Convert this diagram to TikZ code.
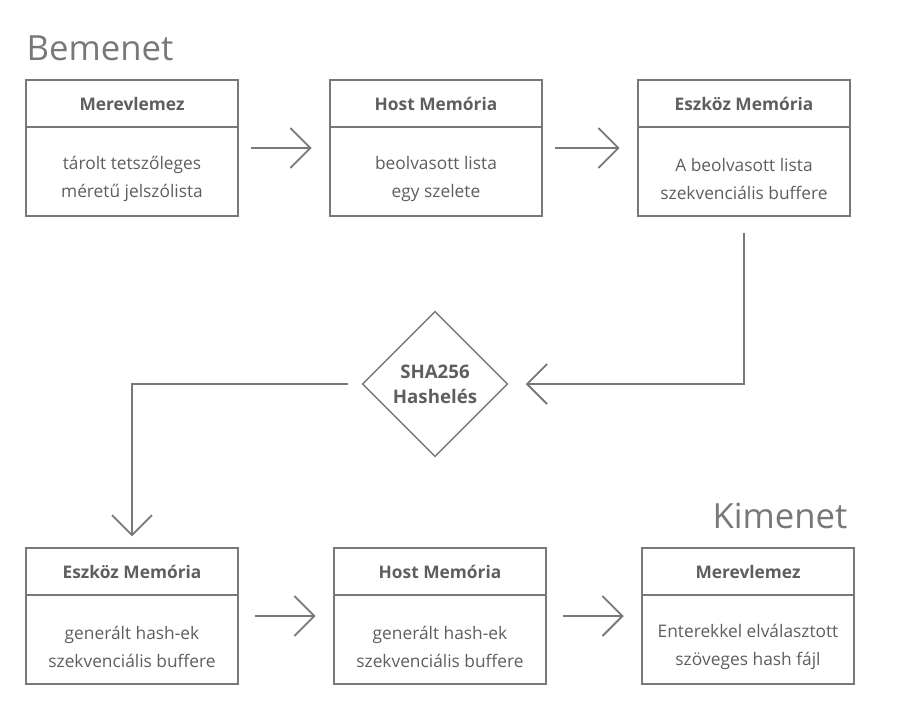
\documentclass[tikz,border=0pt]{standalone}
\usepackage{fontspec}
\setmainfont{Open Sans}
\usetikzlibrary{arrows.meta,shapes.geometric,positioning}

\definecolor{linegray}{HTML}{787878}
\definecolor{textgray}{HTML}{5E5E5E}

\tikzset{
  box/.style={draw=linegray, line width=1.4pt, minimum width=159pt, minimum height=102pt},
  rule/.style={draw=linegray, line width=1.1pt},
  head/.style={text=textgray, font=\bfseries\fontsize{13}{16}\selectfont},
  body/.style={text=textgray, align=center, font=\fontsize{13}{21}\selectfont},
  hashbox/.style={draw=linegray, line width=1.1pt, diamond, aspect=1, inner sep=0pt,
    minimum width=109pt, minimum height=109pt, align=center, text=textgray,
    font=\bfseries\fontsize{14}{19}\selectfont},
  flow/.style={draw=linegray, line width=1.4pt,
    -{Straight Barb[length=15pt, width=30pt, line width=1.4pt]}},
  caption/.style={text=linegray, font=\fontsize{26}{30}\selectfont}
}

\begin{document}
\begin{tikzpicture}[x=0.75pt, y=-0.75pt]
  \useasboundingbox (0,0) rectangle (899,721);

  \node[caption, anchor=base west] (inTitle) at (22,60) {Bemenet};
  \node[caption, anchor=base east] (outTitle) at (852,528) {Kimenet};

  % the six storage boxes
  \foreach \name/\x/\y/\title/\text in {
      inDisk/132/148/Merevlemez/{tárolt tetszőleges\\méretű jelszólista},
      inHost/436/148/Host Memória/{beolvasott lista\\egy szelete},
      inDev/744/148/Eszköz Memória/{A beolvasott lista\\szekvenciális buffere},
      outDev/132/616/Eszköz Memória/{generált hash-ek\\szekvenciális buffere},
      outHost/440/616/Host Memória/{generált hash-ek\\szekvenciális buffere},
      outDisk/748/616/Merevlemez/{Enterekkel elválasztott\\szöveges hash fájl}} {
    \node[box] (\name) at (\x,\y) {};
    \draw[rule] ([yshift=-36pt]\name.north west) -- ([yshift=-36pt]\name.north east);
    \node[head] (\name-head) at ([yshift=-19pt]\name.north) {\title};
    \node[body] (\name-body) at ([yshift=-75pt]\name.north) {\text};
  }

  \node[hashbox] (hash) at (435,384) {SHA256\\Hashelés};

  \draw[flow, shorten <=9pt, shorten >=13pt] (inDisk) -- (inHost);
  \draw[flow, shorten <=9pt, shorten >=13pt] (inHost) -- (inDev);
  \draw[flow, shorten <=12pt, shorten >=13pt] (inDev) |- (hash);
  \draw[flow, shorten <=10pt, shorten >=8pt] (hash) -| (outDev);
  \draw[flow, shorten <=12pt, shorten >=13pt] (outDev) -- (outHost);
  \draw[flow, shorten <=12pt, shorten >=13pt] (outHost) -- (outDisk);
\end{tikzpicture}
\end{document}
